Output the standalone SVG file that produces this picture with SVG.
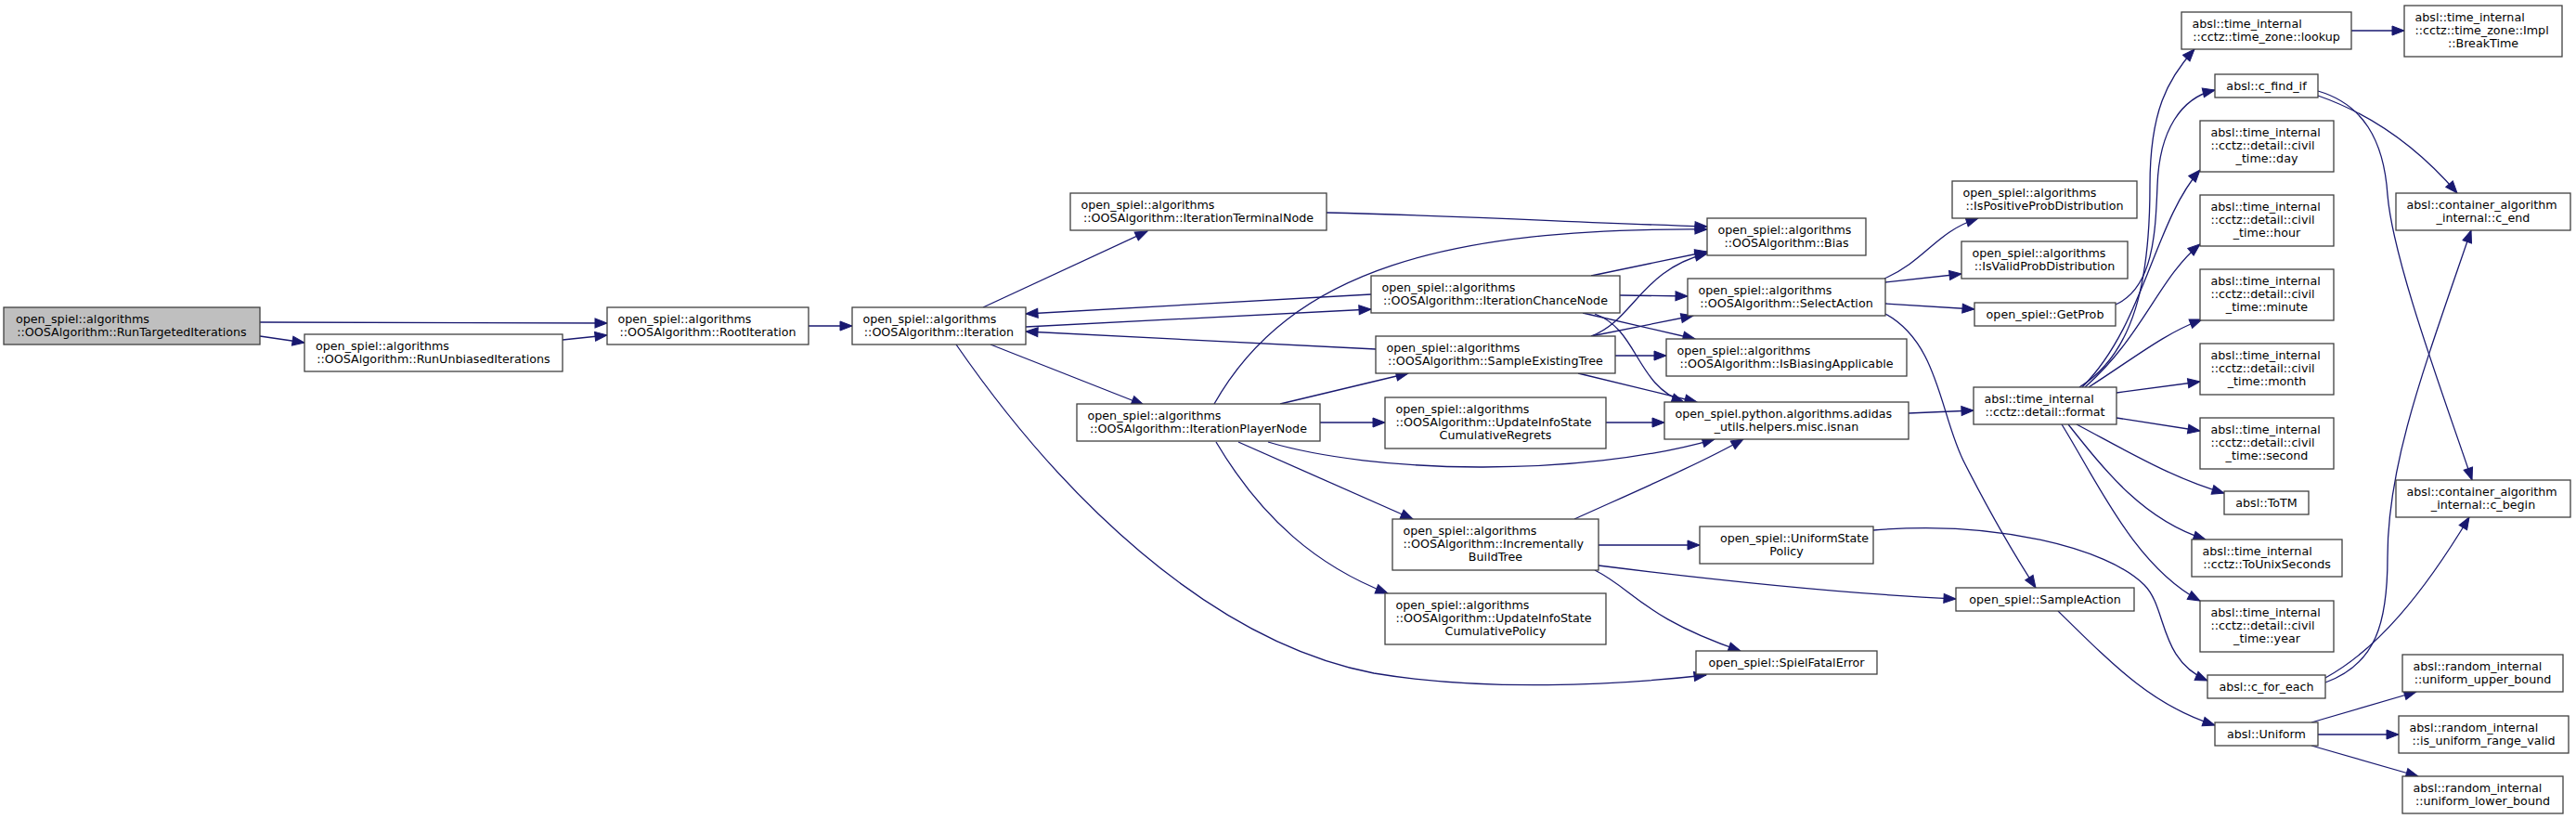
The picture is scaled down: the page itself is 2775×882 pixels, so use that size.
<svg xmlns="http://www.w3.org/2000/svg" width="2775" height="882" viewBox="0 0 2775 882">
<style>
.n rect{fill:#ffffff;stroke:#404040;stroke-width:1.3}
.n.root rect{fill:#bfbfbf}
text{font-family:"DejaVu Sans","Liberation Sans",sans-serif;font-size:12.7px;fill:#000}
.m{text-anchor:middle}
.e path{fill:none;stroke:#191970;stroke-width:1.3;marker-end:url(#ah)}
</style>
<defs>
<marker id="ah" markerUnits="userSpaceOnUse" markerWidth="14" markerHeight="10" refX="13" refY="5" orient="auto" overflow="visible">
<path d="M0,0 L13,5 L0,10 Z" fill="#191970" stroke="#191970" stroke-width="1"/>
</marker>
</defs>
<rect width="2775" height="882" fill="#ffffff"/>
<g id="edges" class="e">
<path d="M280,347 L654,348"/>
<path d="M280,362 L328,369"/>
<path d="M606,366 L654,361"/>
<path d="M871,351 L918,351"/>
<path d="M1059,331 L1236,249"/>
<path d="M1105,352 L1477,333"/>
<path d="M1477,317 L1105,338"/>
<path d="M1482,376 L1105,357"/>
<path d="M1067,371 L1232,436"/>
<path d="M1030,371 C1140,530 1300,690 1480,725 C1600,745 1740,738 1838,727"/>
<path d="M1308,435 C1390,290 1560,245 1839,247"/>
<path d="M1429,229 C1600,233 1700,240 1839,244"/>
<path d="M1714,297 L1839,271"/>
<path d="M1714,362 C1760,345 1768,290 1839,273"/>
<path d="M1745,318 L1818,319"/>
<path d="M1705,337 L1826,365"/>
<path d="M1718,338 C1765,355 1762,415 1814,433"/>
<path d="M1740,383 L1795,383"/>
<path d="M1714,362 L1824,340"/>
<path d="M1700,402 L1828,433"/>
<path d="M1379,435 L1517,402"/>
<path d="M1422,455 L1492,455"/>
<path d="M1334,476 L1522,559"/>
<path d="M1310,476 C1360,560 1420,610 1495,639"/>
<path d="M1366,476 C1480,510 1700,515 1847,473"/>
<path d="M1730,455 L1793,455"/>
<path d="M1696,559 C1760,530 1830,500 1878,473"/>
<path d="M1722,587 L1831,587"/>
<path d="M1722,609 C1850,625 2000,640 2107,645"/>
<path d="M1718,614 C1760,635 1770,665 1875,701"/>
<path d="M2018,571 C2150,560 2270,590 2310,630 C2335,655 2325,710 2378,733"/>
<path d="M2217,658 C2280,720 2320,760 2386,781"/>
<path d="M2030,300 C2075,280 2085,250 2131,235"/>
<path d="M2031,304 L2113,295"/>
<path d="M2031,327 L2127,333"/>
<path d="M2031,338 C2090,370 2090,450 2117,500 C2140,545 2165,590 2193,633"/>
<path d="M2056,445 L2126,442"/>
<path d="M2279,328 C2320,310 2322,250 2324,200 C2326,140 2350,105 2386,97"/>
<path d="M2240,417 C2300,380 2316,300 2316,200 C2316,120 2335,85 2364,53"/>
<path d="M2243,417 C2310,350 2320,240 2370,183"/>
<path d="M2246,417 C2310,360 2325,300 2370,263"/>
<path d="M2250,417 C2300,385 2330,360 2372,344"/>
<path d="M2280,423 L2370,411"/>
<path d="M2280,450 L2370,464"/>
<path d="M2237,457 C2290,485 2340,515 2396,531"/>
<path d="M2228,457 C2270,510 2310,560 2376,581"/>
<path d="M2221,457 C2260,520 2300,610 2370,647"/>
<path d="M2533,33 L2590,33"/>
<path d="M2497,103 C2560,125 2610,165 2647,208"/>
<path d="M2497,98 C2545,112 2568,150 2572,210 C2578,280 2630,420 2663,517"/>
<path d="M2505,730 C2560,700 2610,640 2660,557"/>
<path d="M2505,735 C2560,715 2572,670 2572,600 C2572,500 2610,400 2662,248"/>
<path d="M2490,778 L2603,745"/>
<path d="M2497,791 L2584,791"/>
<path d="M2490,803 L2605,836"/>
</g>
<g id="node1" class="n root"><rect x="4" y="331" width="276" height="40"/><text x="17" y="347.5">open_spiel::algorithms</text><text x="142" y="361.75" class="m">::OOSAlgorithm::RunTargetedIterations</text></g>
<g id="node2" class="n"><rect x="328" y="360" width="278" height="40"/><text x="340" y="376.5">open_spiel::algorithms</text><text x="467" y="390.75" class="m">::OOSAlgorithm::RunUnbiasedIterations</text></g>
<g id="node3" class="n"><rect x="654" y="331" width="217" height="40"/><text x="665.5" y="347.5">open_spiel::algorithms</text><text x="762.5" y="361.75" class="m">::OOSAlgorithm::RootIteration</text></g>
<g id="node4" class="n"><rect x="918" y="331" width="187" height="40"/><text x="929.5" y="347.5">open_spiel::algorithms</text><text x="1011.5" y="361.75" class="m">::OOSAlgorithm::Iteration</text></g>
<g id="node5" class="n"><rect x="1153" y="208" width="276" height="40"/><text x="1164.5" y="224.5">open_spiel::algorithms</text><text x="1291" y="238.75" class="m">::OOSAlgorithm::IterationTerminalNode</text></g>
<g id="node6" class="n"><rect x="1477" y="297" width="268" height="40"/><text x="1488.5" y="313.5">open_spiel::algorithms</text><text x="1611" y="327.75" class="m">::OOSAlgorithm::IterationChanceNode</text></g>
<g id="node7" class="n"><rect x="1482" y="362" width="258" height="40"/><text x="1493.5" y="378.5">open_spiel::algorithms</text><text x="1611" y="392.75" class="m">::OOSAlgorithm::SampleExistingTree</text></g>
<g id="node8" class="n"><rect x="1160" y="435" width="262" height="40"/><text x="1171.5" y="451.5">open_spiel::algorithms</text><text x="1291" y="465.75" class="m">::OOSAlgorithm::IterationPlayerNode</text></g>
<g id="node9" class="n"><rect x="1492" y="428" width="238" height="55"/><text x="1503.5" y="444.5">open_spiel::algorithms</text><text x="1503.5" y="458.75">::OOSAlgorithm::UpdateInfoState</text><text x="1611" y="473" class="m">CumulativeRegrets</text></g>
<g id="node10" class="n"><rect x="1500" y="559" width="222" height="55"/><text x="1511.5" y="575.5">open_spiel::algorithms</text><text x="1511.5" y="589.75">::OOSAlgorithm::Incrementally</text><text x="1611" y="604" class="m">BuildTree</text></g>
<g id="node11" class="n"><rect x="1492" y="639" width="238" height="55"/><text x="1503.5" y="655.5">open_spiel::algorithms</text><text x="1503.5" y="669.75">::OOSAlgorithm::UpdateInfoState</text><text x="1611" y="684" class="m">CumulativePolicy</text></g>
<g id="node12" class="n"><rect x="1839" y="235" width="171" height="40"/><text x="1850.5" y="251.5">open_spiel::algorithms</text><text x="1924.5" y="265.75" class="m">::OOSAlgorithm::Bias</text></g>
<g id="node13" class="n"><rect x="1818" y="300" width="213" height="40"/><text x="1829.5" y="316.5">open_spiel::algorithms</text><text x="1924.5" y="330.75" class="m">::OOSAlgorithm::SelectAction</text></g>
<g id="node14" class="n"><rect x="1795" y="365" width="259" height="40"/><text x="1806.5" y="381.5">open_spiel::algorithms</text><text x="1924.5" y="395.75" class="m">::OOSAlgorithm::IsBiasingApplicable</text></g>
<g id="node15" class="n"><rect x="1793" y="433" width="263" height="40"/><text x="1804.5" y="449.5">open_spiel.python.algorithms.adidas</text><text x="1924.5" y="463.75" class="m">_utils.helpers.misc.isnan</text></g>
<g id="node16" class="n"><rect x="2103" y="195" width="199" height="40"/><text x="2114.5" y="211.5">open_spiel::algorithms</text><text x="2202.5" y="225.75" class="m">::IsPositiveProbDistribution</text></g>
<g id="node17" class="n"><rect x="2113" y="260" width="179" height="40"/><text x="2124.5" y="276.5">open_spiel::algorithms</text><text x="2202.5" y="290.75" class="m">::IsValidProbDistribution</text></g>
<g id="node18" class="n"><rect x="2127" y="326" width="152" height="25"/><text x="2203" y="342.5" class="m">open_spiel::GetProb</text></g>
<g id="node19" class="n"><rect x="2126" y="417" width="154" height="40"/><text x="2137.5" y="433.5">absl::time_internal</text><text x="2203" y="447.75" class="m">::cctz::detail::format</text></g>
<g id="node20" class="n"><rect x="1831" y="567" width="187" height="40"/><text x="1853" y="583.5">open_spiel::UniformState</text><text x="1924.5" y="597.75" class="m">Policy</text></g>
<g id="node21" class="n"><rect x="2107" y="633" width="192" height="25"/><text x="2203" y="649.5" class="m">open_spiel::SampleAction</text></g>
<g id="node22" class="n"><rect x="1827" y="701" width="195" height="25"/><text x="1924.5" y="717.5" class="m">open_spiel::SpielFatalError</text></g>
<g id="node23" class="n"><rect x="2350" y="13" width="183" height="40"/><text x="2361.5" y="29.5">absl::time_internal</text><text x="2441.5" y="43.75" class="m">::cctz::time_zone::lookup</text></g>
<g id="node24" class="n"><rect x="2386" y="80" width="111" height="25"/><text x="2441.5" y="96.5" class="m">absl::c_find_if</text></g>
<g id="node25" class="n"><rect x="2370" y="130" width="144" height="55"/><text x="2381.5" y="146.5">absl::time_internal</text><text x="2381.5" y="160.75">::cctz::detail::civil</text><text x="2442" y="175" class="m">_time::day</text></g>
<g id="node26" class="n"><rect x="2370" y="210" width="144" height="55"/><text x="2381.5" y="226.5">absl::time_internal</text><text x="2381.5" y="240.75">::cctz::detail::civil</text><text x="2442" y="255" class="m">_time::hour</text></g>
<g id="node27" class="n"><rect x="2370" y="290" width="144" height="55"/><text x="2381.5" y="306.5">absl::time_internal</text><text x="2381.5" y="320.75">::cctz::detail::civil</text><text x="2442" y="335" class="m">_time::minute</text></g>
<g id="node28" class="n"><rect x="2370" y="370" width="144" height="55"/><text x="2381.5" y="386.5">absl::time_internal</text><text x="2381.5" y="400.75">::cctz::detail::civil</text><text x="2442" y="415" class="m">_time::month</text></g>
<g id="node29" class="n"><rect x="2370" y="450" width="144" height="55"/><text x="2381.5" y="466.5">absl::time_internal</text><text x="2381.5" y="480.75">::cctz::detail::civil</text><text x="2442" y="495" class="m">_time::second</text></g>
<g id="node30" class="n"><rect x="2396" y="529" width="91" height="25"/><text x="2441.5" y="545.5" class="m">absl::ToTM</text></g>
<g id="node31" class="n"><rect x="2361" y="581" width="162" height="40"/><text x="2372.5" y="597.5">absl::time_internal</text><text x="2442" y="611.75" class="m">::cctz::ToUnixSeconds</text></g>
<g id="node32" class="n"><rect x="2370" y="647" width="144" height="55"/><text x="2381.5" y="663.5">absl::time_internal</text><text x="2381.5" y="677.75">::cctz::detail::civil</text><text x="2442" y="692" class="m">_time::year</text></g>
<g id="node33" class="n"><rect x="2378" y="727" width="127" height="25"/><text x="2441.5" y="743.5" class="m">absl::c_for_each</text></g>
<g id="node34" class="n"><rect x="2386" y="778" width="111" height="25"/><text x="2441.5" y="794.5" class="m">absl::Uniform</text></g>
<g id="node35" class="n"><rect x="2590" y="6" width="170" height="55"/><text x="2601.5" y="22.5">absl::time_internal</text><text x="2601.5" y="36.75">::cctz::time_zone::Impl</text><text x="2675" y="51" class="m">::BreakTime</text></g>
<g id="node36" class="n"><rect x="2581" y="208" width="188" height="40"/><text x="2592.5" y="224.5">absl::container_algorithm</text><text x="2675" y="238.75" class="m">_internal::c_end</text></g>
<g id="node37" class="n"><rect x="2581" y="517" width="188" height="40"/><text x="2592.5" y="533.5">absl::container_algorithm</text><text x="2675" y="547.75" class="m">_internal::c_begin</text></g>
<g id="node38" class="n"><rect x="2588" y="705" width="173" height="40"/><text x="2599.5" y="721.5">absl::random_internal</text><text x="2674.5" y="735.75" class="m">::uniform_upper_bound</text></g>
<g id="node39" class="n"><rect x="2584" y="771" width="183" height="40"/><text x="2595.5" y="787.5">absl::random_internal</text><text x="2675.5" y="801.75" class="m">::is_uniform_range_valid</text></g>
<g id="node40" class="n"><rect x="2588" y="836" width="173" height="40"/><text x="2599.5" y="852.5">absl::random_internal</text><text x="2674.5" y="866.75" class="m">::uniform_lower_bound</text></g>
</svg>
